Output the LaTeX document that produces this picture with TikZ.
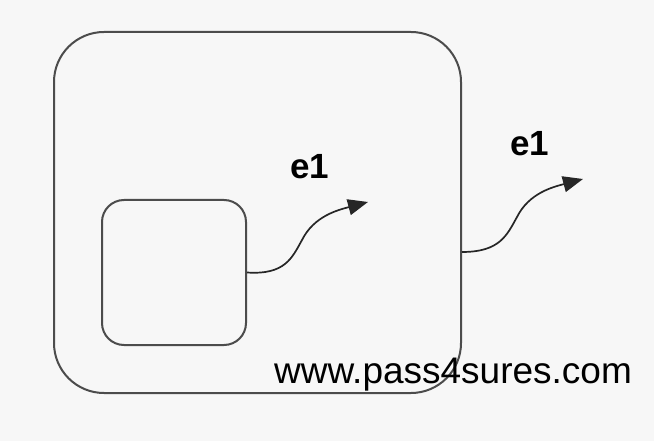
\documentclass[tikz,border=0pt]{standalone}
\usepackage{fontspec}
\setmainfont{Liberation Sans}
\usetikzlibrary{arrows.meta}
\begin{document}
\begin{tikzpicture}[x=1pt,y=-1pt,
  statebox/.style={draw=black!70,line width=2pt,inner sep=0pt},
  evarrow/.style={draw=black!85,line width=1.7pt,-{Triangle[length=20pt,width=16pt]}},
  evlabel/.style={font=\fontsize{35}{38}\selectfont\bfseries,inner sep=0pt},
  wmtext/.style={font=\fontsize{37}{40}\selectfont,inner sep=0pt}]
\fill[black!3] (0,0) rectangle (654,441);
\useasboundingbox (0,0) rectangle (654,441);
\node[statebox,rounded corners=50pt,minimum width=407pt,minimum height=361pt] (outer) at (257.5,212.5) {};
\node[statebox,rounded corners=22pt,minimum width=144pt,minimum height=145pt] (inner) at (174,272.5) {};
\coordinate (t1) at (368,202);
\coordinate (t2) at (583,179);
\draw[evarrow] (inner.east) .. controls (285,275) and (292,258) .. (302,240) .. controls (314,216) and (338,210) .. (t1);
\draw[evarrow] ([yshift=-39.5pt]outer.east) .. controls (500,252) and (507,235) .. (517,217) .. controls (529,193) and (553,187) .. (t2);
\node[evlabel] (l1) at (310,167) {e1};
\node[evlabel] (l2) at (530,144) {e1};
\node[wmtext] (wm) at (453,375) {www.pass4sures.com};
\end{tikzpicture}
\end{document}
